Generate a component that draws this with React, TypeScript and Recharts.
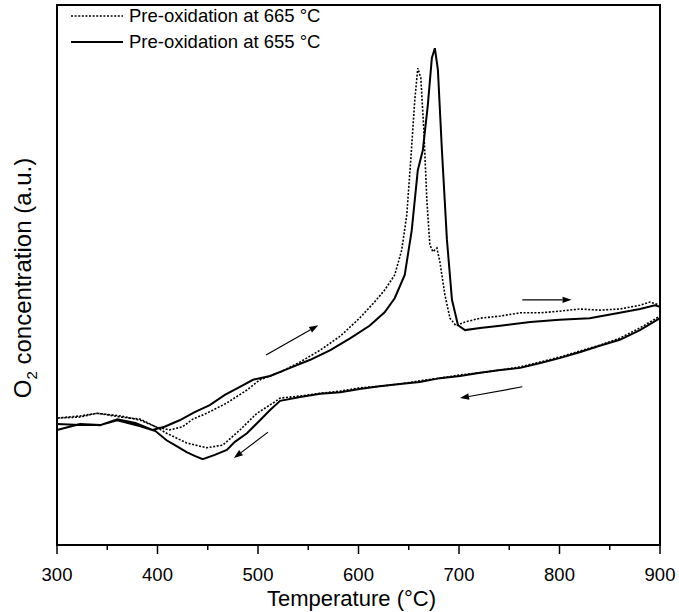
import { LineChart, Line, XAxis, YAxis, ReferenceArea, ReferenceLine, Legend } from "recharts";

const FONT = '"Liberation Sans", Arial, sans-serif';
const INK = "#000";

// Pre-oxidation at 665 °C (dotted): heating run then cooling run
const TEMP_UP_665 = [300, 323, 340, 363, 383, 398, 412, 425, 435, 449, 469, 489, 502, 522, 542, 562, 582, 601, 616, 626, 636, 643, 648, 652, 656, 659, 662, 665, 668, 671, 674, 678, 681, 686, 691, 697, 706, 721, 741, 761, 781, 800, 820, 840, 860, 880, 890, 900];
const O2_UP_665 = [23.5, 23.7, 24.4, 23.7, 23.3, 21.9, 21.3, 21.9, 23.3, 24.4, 26.3, 28.7, 30.6, 32.0, 33.9, 36.1, 38.7, 42.0, 45.0, 47.2, 50.0, 54.6, 61.1, 71.3, 82.4, 88.3, 86.5, 76.9, 63.9, 55.6, 54.3, 55.0, 52.4, 46.3, 42.0, 40.6, 41.3, 42.0, 42.4, 43.0, 43.0, 43.3, 43.7, 43.5, 43.7, 44.4, 45.0, 44.4];
const TEMP_DOWN_665 = [900, 880, 860, 840, 820, 800, 781, 761, 741, 721, 701, 681, 661, 641, 621, 601, 582, 562, 542, 522, 515, 499, 482, 465, 449, 429, 409, 398, 383, 363, 340, 323, 300];
const O2_DOWN_665 = [42.4, 40.2, 38.3, 37.0, 35.9, 34.8, 33.9, 33.0, 32.4, 31.9, 31.5, 30.9, 30.4, 29.8, 29.4, 29.1, 28.5, 28.1, 27.6, 27.2, 26.3, 24.4, 21.3, 18.5, 18.0, 18.9, 20.7, 21.9, 23.1, 23.9, 24.4, 23.9, 23.5];

// Pre-oxidation at 655 °C (solid)
const TEMP_UP_655 = [300, 323, 343, 360, 378, 395, 407, 422, 437, 452, 467, 482, 495, 512, 532, 552, 572, 592, 611, 626, 636, 646, 653, 659, 664, 669, 673, 676, 679, 683, 688, 693, 699, 706, 721, 741, 771, 800, 830, 860, 880, 895, 900];
const O2_UP_655 = [21.3, 22.4, 22.2, 23.3, 22.6, 21.3, 21.9, 23.1, 24.6, 25.9, 27.8, 29.3, 30.6, 31.3, 32.8, 34.3, 36.1, 38.3, 40.6, 43.1, 45.7, 50.0, 58.3, 69.4, 73.1, 81.5, 90.2, 92.0, 88.0, 73.1, 56.5, 45.4, 40.7, 39.8, 40.2, 40.6, 41.3, 41.7, 42.0, 43.0, 43.7, 44.4, 44.1];
const TEMP_DOWN_655 = [900, 880, 860, 840, 820, 800, 781, 761, 741, 721, 701, 681, 661, 641, 621, 601, 582, 562, 542, 522, 512, 502, 489, 477, 469, 457, 445, 437, 429, 419, 409, 398, 383, 360, 343, 323, 300];
const O2_DOWN_655 = [42.0, 39.8, 38.0, 36.9, 35.7, 34.6, 33.7, 32.8, 32.4, 31.9, 31.3, 30.9, 30.2, 29.8, 29.4, 28.9, 28.3, 28.0, 27.4, 26.7, 25.0, 23.1, 20.7, 19.1, 17.6, 16.7, 15.9, 16.5, 17.2, 18.3, 19.4, 21.1, 22.0, 23.1, 22.2, 22.2, 22.4];

const X_TICKS = [300, 350, 400, 450, 500, 550, 600, 650, 700, 750, 800, 850, 900];

// direction arrows (start -> head), in chart units
const ARROW_FROM_T = [508, 763, 763, 510];
const ARROW_FROM_V = [35.2, 45.4, 29.3, 20.9];
const ARROW_TO_T = [560, 812, 701, 476];
const ARROW_TO_V = [40.7, 45.4, 27.2, 16.1];

const toPoints = (t: number[], v: number[]) => t.map((temp, i) => ({ temp, o2: v[i] }));

const data665 = [...toPoints(TEMP_UP_665, O2_UP_665), ...toPoints(TEMP_DOWN_665, O2_DOWN_665)];
const data655 = [...toPoints(TEMP_UP_655, O2_UP_655), ...toPoints(TEMP_DOWN_655, O2_DOWN_655)];

function TempTick({ x, y, payload }: any) {
  const major = payload.value % 100 === 0;
  return (
    <g>
      <line x1={x} x2={x} y1={y} y2={y + (major ? 9 : 5)} stroke={INK} strokeWidth={1.5} />
      {major && (
        <text x={x} y={y + 36} textAnchor="middle" fontSize={18.5} fontFamily={FONT} fill={INK}>
          {payload.value}
        </text>
      )}
    </g>
  );
}

function Arrow({ x1, y1, x2, y2 }: any) {
  const a = Math.atan2(y2 - y1, x2 - x1);
  const len = 9;
  const w = 3.2;
  const bx = x2 - len * Math.cos(a);
  const by = y2 - len * Math.sin(a);
  const px = -Math.sin(a) * w;
  const py = Math.cos(a) * w;
  return (
    <g>
      <line x1={x1} y1={y1} x2={bx} y2={by} stroke={INK} strokeWidth={1.2} />
      <polygon points={`${x2},${y2} ${bx + px},${by + py} ${bx - px},${by - py}`} fill={INK} />
    </g>
  );
}

function YTitle({ viewBox }: any) {
  const cx = 31;
  const cy = viewBox.y + viewBox.height / 2 + 3;
  return (
    <text x={cx} y={cy} transform={`rotate(-90, ${cx}, ${cy})`} textAnchor="middle" fontSize={24} fontFamily={FONT} fill={INK}>
      O<tspan fontSize={15} dy={6}>2</tspan>
      <tspan dy={-6}> concentration (a.u.)</tspan>
    </text>
  );
}

function XTitle({ viewBox }: any) {
  const cx = viewBox.x + viewBox.width / 2 - 7;
  return (
    <text x={cx} y={606} textAnchor="middle" fontSize={22} fontFamily={FONT} fill={INK}>
      Temperature (°C)
    </text>
  );
}

function LegendBox() {
  const rows = [
    { label: "Pre-oxidation at 665 °C", dash: "2 1.6" },
    { label: "Pre-oxidation at 655 °C", dash: undefined },
  ];
  return (
    <div style={{ fontFamily: FONT, fontSize: 18.5, color: INK }}>
      {rows.map((r) => (
        <div key={r.label} style={{ display: "flex", alignItems: "center", height: 26 }}>
          <svg width={52} height={10} style={{ marginRight: 6 }}>
            <line x1={0} x2={52} y1={5} y2={5} stroke={INK} strokeWidth={r.dash ? 1.6 : 2} strokeDasharray={r.dash} />
          </svg>
          <span>{r.label}</span>
        </div>
      ))}
    </div>
  );
}

export default function App() {
  return (
    <div style={{ position: "absolute", left: 0, top: 0, width: 679, height: 612, background: "#fff" }}>
      <LineChart width={679} height={612} margin={{ top: 5, right: 19, left: 0, bottom: 0 }}>
        <XAxis
          dataKey="temp"
          type="number"
          domain={[300, 900]}
          ticks={X_TICKS}
          allowDuplicatedCategory={false}
          axisLine={false}
          tickLine={false}
          tickSize={0}
          tickMargin={0}
          tick={<TempTick />}
          height={67}
          label={<XTitle />}
        />
        <YAxis
          type="number"
          domain={[0, 100]}
          width={57}
          tick={false}
          tickLine={false}
          axisLine={false}
          label={<YTitle />}
        />
        <ReferenceArea x1={300} x2={900} y1={0} y2={100} fill="none" stroke={INK} strokeWidth={2} />
        <Legend
          layout="horizontal"
          verticalAlign="middle"
          align="center"
          wrapperStyle={{ left: 71, top: 3, width: 330 }}
          content={<LegendBox />}
        />
        <Line
          data={data665}
          dataKey="o2"
          name="665"
          type="linear"
          stroke={INK}
          strokeWidth={1.6}
          strokeDasharray="2 1.6"
          dot={false}
          isAnimationActive={false}
        />
        <Line
          data={data655}
          dataKey="o2"
          name="655"
          type="linear"
          stroke={INK}
          strokeWidth={2}
          dot={false}
          isAnimationActive={false}
        />
        {ARROW_FROM_T.map((t, i) => (
          <ReferenceLine
            key={i}
            segment={[
              { x: t, y: ARROW_FROM_V[i] },
              { x: ARROW_TO_T[i], y: ARROW_TO_V[i] },
            ]}
            stroke={INK}
            shape={(p: any) => <Arrow {...p} />}
          />
        ))}
      </LineChart>
    </div>
  );
}
